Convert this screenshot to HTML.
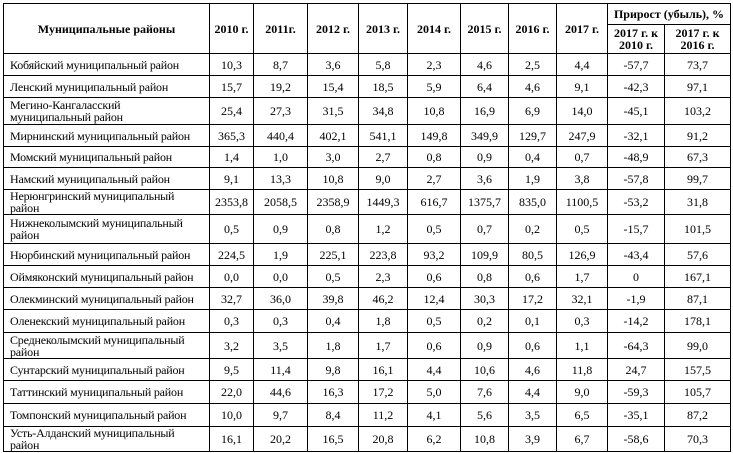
<!DOCTYPE html>
<html><head><meta charset="utf-8"><style>
body{margin:0;background:#fff;width:733px;height:453px;overflow:hidden}
table{position:absolute;left:3px;top:3px;border-collapse:collapse;table-layout:fixed;width:727px;font-family:"Liberation Serif","DejaVu Serif",serif;font-size:12px;color:#000}
td,th{border:1px solid #000;padding:0 2px;text-align:center;vertical-align:middle;line-height:12px;overflow:hidden;white-space:nowrap}
th{font-weight:bold}
td:first-child{text-align:left;padding-left:6px;letter-spacing:-0.2px}
</style></head><body>
<table>
<colgroup><col style="width:206px"><col style="width:44px"><col style="width:54px"><col style="width:51px"><col style="width:49px"><col style="width:53px"><col style="width:48px"><col style="width:48px"><col style="width:51px"><col style="width:57px"><col style="width:66px"></colgroup>
<tr style="height:21px"><th rowspan="2">Муниципальные районы</th><th rowspan="2">2010 г.</th><th rowspan="2">2011г.</th><th rowspan="2">2012 г.</th><th rowspan="2">2013 г.</th><th rowspan="2">2014 г.</th><th rowspan="2">2015 г.</th><th rowspan="2">2016 г.</th><th rowspan="2">2017 г.</th><th colspan="2">Прирост (убыль), %</th></tr>
<tr style="height:29px"><th>2017 г. к<br>2010 г.</th><th>2017 г. к<br>2016 г.</th></tr>
<tr style="height:22px"><td>Кобяйский муниципальный район</td><td>10,3</td><td>8,7</td><td>3,6</td><td>5,8</td><td>2,3</td><td>4,6</td><td>2,5</td><td>4,4</td><td>-57,7</td><td>73,7</td></tr>
<tr style="height:22px"><td>Ленский муниципальный район</td><td>15,7</td><td>19,2</td><td>15,4</td><td>18,5</td><td>5,9</td><td>6,4</td><td>4,6</td><td>9,1</td><td>-42,3</td><td>97,1</td></tr>
<tr style="height:27px"><td>Мегино-Кангаласский<br>муниципальный район</td><td>25,4</td><td>27,3</td><td>31,5</td><td>34,8</td><td>10,8</td><td>16,9</td><td>6,9</td><td>14,0</td><td>-45,1</td><td>103,2</td></tr>
<tr style="height:22px"><td>Мирнинский муниципальный район</td><td>365,3</td><td>440,4</td><td>402,1</td><td>541,1</td><td>149,8</td><td>349,9</td><td>129,7</td><td>247,9</td><td>-32,1</td><td>91,2</td></tr>
<tr style="height:21px"><td>Момский муниципальный район</td><td>1,4</td><td>1,0</td><td>3,0</td><td>2,7</td><td>0,8</td><td>0,9</td><td>0,4</td><td>0,7</td><td>-48,9</td><td>67,3</td></tr>
<tr style="height:22px"><td>Намский муниципальный район</td><td>9,1</td><td>13,3</td><td>10,8</td><td>9,0</td><td>2,7</td><td>3,6</td><td>1,9</td><td>3,8</td><td>-57,8</td><td>99,7</td></tr>
<tr style="height:25px"><td>Нерюнгринский муниципальный<br>район</td><td>2353,8</td><td>2058,5</td><td>2358,9</td><td>1449,3</td><td>616,7</td><td>1375,7</td><td>835,0</td><td>1100,5</td><td>-53,2</td><td>31,8</td></tr>
<tr style="height:29px"><td>Нижнеколымский муниципальный<br>район</td><td>0,5</td><td>0,9</td><td>0,8</td><td>1,2</td><td>0,5</td><td>0,7</td><td>0,2</td><td>0,5</td><td>-15,7</td><td>101,5</td></tr>
<tr style="height:22px"><td>Нюрбинский муниципальный район</td><td>224,5</td><td>1,9</td><td>225,1</td><td>223,8</td><td>93,2</td><td>109,9</td><td>80,5</td><td>126,9</td><td>-43,4</td><td>57,6</td></tr>
<tr style="height:22px"><td>Оймяконский муниципальный район</td><td>0,0</td><td>0,0</td><td>0,5</td><td>2,3</td><td>0,6</td><td>0,8</td><td>0,6</td><td>1,7</td><td>0</td><td>167,1</td></tr>
<tr style="height:22px"><td>Олекминский муниципальный район</td><td>32,7</td><td>36,0</td><td>39,8</td><td>46,2</td><td>12,4</td><td>30,3</td><td>17,2</td><td>32,1</td><td>-1,9</td><td>87,1</td></tr>
<tr style="height:23px"><td>Оленекский муниципальный район</td><td>0,3</td><td>0,3</td><td>0,4</td><td>1,8</td><td>0,5</td><td>0,2</td><td>0,1</td><td>0,3</td><td>-14,2</td><td>178,1</td></tr>
<tr style="height:26px"><td>Среднеколымский муниципальный<br>район</td><td>3,2</td><td>3,5</td><td>1,8</td><td>1,7</td><td>0,6</td><td>0,9</td><td>0,6</td><td>1,1</td><td>-64,3</td><td>99,0</td></tr>
<tr style="height:22px"><td>Сунтарский муниципальный район</td><td>9,5</td><td>11,4</td><td>9,8</td><td>16,1</td><td>4,4</td><td>10,6</td><td>4,6</td><td>11,8</td><td>24,7</td><td>157,5</td></tr>
<tr style="height:23px"><td>Таттинский муниципальный район</td><td>22,0</td><td>44,6</td><td>16,3</td><td>17,2</td><td>5,0</td><td>7,6</td><td>4,4</td><td>9,0</td><td>-59,3</td><td>105,7</td></tr>
<tr style="height:23px"><td>Томпонский муниципальный район</td><td>10,0</td><td>9,7</td><td>8,4</td><td>11,2</td><td>4,1</td><td>5,6</td><td>3,5</td><td>6,5</td><td>-35,1</td><td>87,2</td></tr>
<tr style="height:24px"><td>Усть-Алданский муниципальный<br>район</td><td>16,1</td><td>20,2</td><td>16,5</td><td>20,8</td><td>6,2</td><td>10,8</td><td>3,9</td><td>6,7</td><td>-58,6</td><td>70,3</td></tr>
</table>
</body></html>
